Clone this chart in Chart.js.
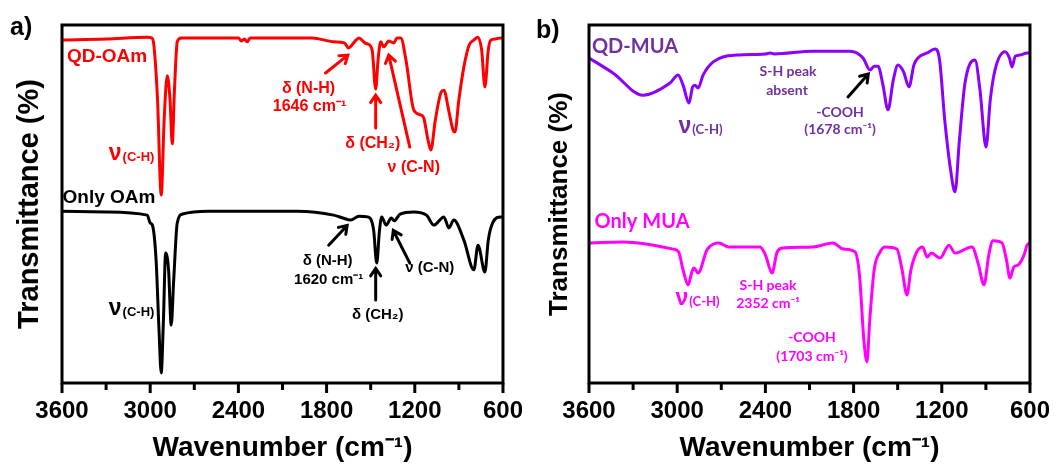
<!DOCTYPE html>
<html lang="en">
<head>
<meta charset="UTF-8">
<script src="https://cdn.jsdelivr.net/npm/chart.js@4.4.0/dist/chart.umd.min.js"></script>
<title>FTIR spectra</title>
<style>
  body { margin: 0; background: #fff; }
  .panel { position: absolute; top: 0; width: 527px; height: 466px; }
</style>
</head>
<body>
<div class="panel" style="left:0"><canvas id="chartA" width="527" height="466"></canvas></div>
<div class="panel" style="left:527px"><canvas id="chartB" width="527" height="466"></canvas></div>
<script>
// x: wavenumber (cm-1), y: transmittance (arbitrary, curves offset)
const qdOamWn = [3600,3300,3020,2990,2975,2950,2925,2905,2884,2865,2850,2835,2816,2790,2400,2380,2360,2340,2320,1900,1752,1680,1650,1610,1580,1540,1520,1490,1466,1450,1432,1411,1377,1343,1320,1295,1260,1207,1160,1139,1110,1091,1060,1020,1002,970,940,927,900,866,830,798,771,745,723,700,682,650,614,600];
const qdOamT = [95.8,96.1,96.6,96.4,94.4,79.1,52.5,73.5,85.8,79.1,66.8,81.8,95.3,96.4,96.4,95.5,96.1,95.3,96.4,96.4,95.3,95.0,93.6,95.3,96.4,95.0,94.7,93.0,82.1,90.2,95.3,93.9,95.5,95.0,96.4,96.4,90.2,76.3,74.9,74.0,67.9,65.1,73.5,81.3,81.8,76.3,70.7,70.1,79.1,88.3,94.4,95.8,96.6,93.0,82.7,93.0,95.8,96.1,96.4,96.4];

const oamWn = [3600,3300,3020,3000,2985,2960,2940,2925,2910,2895,2875,2857,2840,2816,2780,2600,2000,1752,1690,1636,1580,1520,1480,1459,1440,1425,1395,1360,1340,1300,1207,1120,1070,1002,968,935,866,798,770,723,700,670,614,600];
const oamT = [48.0,47.8,46.9,44.7,44.1,34.4,14.8,2.8,17.6,36.3,31.6,16.2,28.8,44.7,47.2,48.0,48.0,46.9,46.1,45.5,46.6,46.4,42.7,33.5,42.7,46.4,44.1,46.1,45.3,47.2,47.8,46.9,44.1,46.4,43.3,45.5,39.9,31.6,38.5,31.0,39.9,44.7,46.4,46.4];

const qdMuaWn = [3600,3437,3233,3049,2994,2960,2920,2895,2879,2858,2824,2755,2593,2400,2369,2340,2076,1825,1736,1688,1660,1634,1600,1566,1530,1498,1460,1423,1390,1362,1300,1246,1215,1180,1140,1110,1080,1042,974,940,899,870,838,770,740,722,700,670,620,600];
const qdMuaT = [90.8,86.6,80.4,83.8,86.0,83.2,78.2,82.7,83.2,82.4,86.0,89.7,91.6,91.9,92.2,91.9,92.7,92.7,90.8,87.4,88.5,88.5,83.2,76.3,84.6,88.8,86.9,82.7,88.8,90.8,92.2,93.3,90.2,73.5,59.5,53.4,67.9,83.8,90.2,81.8,65.9,79.1,87.4,92.5,90.8,88.3,91.3,91.6,92.2,92.2];

const muaWn = [3600,3369,3028,2990,2960,2926,2900,2886,2858,2797,2716,2650,2437,2400,2355,2320,2280,2076,1940,1870,1790,1760,1730,1709,1690,1660,1620,1586,1505,1470,1437,1410,1370,1330,1300,1270,1212,1151,1110,994,950,913,880,852,790,760,736,710,680,640,620,600];
const muaT = [39.1,39.4,37.4,36.6,31.6,27.4,31.0,32.1,30.7,37.2,39.1,38.0,38.0,35.8,30.7,36.6,37.7,38.0,39.1,37.4,36.6,30.2,12.0,5.9,17.6,31.6,36.6,38.0,37.4,31.6,24.6,31.6,36.6,38.0,35.2,36.3,34.9,38.5,36.3,38.0,33.0,27.4,35.8,39.7,39.1,34.4,29.3,32.4,33.0,35.8,38.5,39.1];

const xMin = 600, xMax = 3600, xStep = 300, labelStep = 600;

const AR = '"Liberation Sans", Arial, sans-serif';
const CAL = 'Lato, "Open Sans", sans-serif';

// annotations placed in data coordinates
const notesA = [
  { t: 'text', x: 3293, y: 91.1, s: 'QD-OAm', c: '#ff0000', f: 'bold 19px ' + AR },
  { t: 'nu', x: 3130, y: 63.7, s: '(C-H)', c: '#ff0000', f1: 'bold 23px ' + AR, f2: 'bold 13px ' + AR },
  { t: 'arrow', x1: 1807, y1: 86.6, x2: 1655, y2: 91.6, c: '#ff0000' },
  { t: 'text', x: 1923, y: 82.1, s: 'δ (N-H)', c: '#ff0000', f: 'bold 16px ' + AR },
  { t: 'text', x: 1916, y: 77.1, s: '1646 cm⁻¹', c: '#ff0000', f: 'bold 16px ' + AR },
  { t: 'arrow', x1: 1466, y1: 71.2, x2: 1466, y2: 80.4, c: '#ff0000' },
  { t: 'text', x: 1486, y: 66.8, s: 'δ (CH₂)', c: '#ff0000', f: 'bold 16px ' + AR },
  { t: 'arrow', x1: 1234, y1: 65.9, x2: 1377, y2: 91.6, c: '#ff0000' },
  { t: 'text', x: 1207, y: 60.3, s: 'ν (C-N)', c: '#ff0000', f: 'bold 16px ' + AR },
  { t: 'text', x: 3280, y: 51.7, s: 'Only OAm', c: '#000', f: 'bold 19px ' + AR },
  { t: 'nu', x: 3130, y: 20.4, s: '(C-H)', c: '#000', f1: 'bold 23px ' + AR, f2: 'bold 13px ' + AR },
  { t: 'arrow', x1: 1786, y1: 38.5, x2: 1660, y2: 44.0, c: '#000' },
  { t: 'text', x: 1793, y: 34.1, s: 'δ (N-H)', c: '#000', f: 'bold 15px ' + AR },
  { t: 'text', x: 1786, y: 28.8, s: '1620 cm⁻¹', c: '#000', f: 'bold 15px ' + AR },
  { t: 'arrow', x1: 1466, y1: 23.2, x2: 1466, y2: 32.0, c: '#000' },
  { t: 'text', x: 1452, y: 19.0, s: 'δ (CH₂)', c: '#000', f: 'bold 15px ' + AR },
  { t: 'arrow', x1: 1234, y1: 33.5, x2: 1346, y2: 42.6, c: '#000' },
  { t: 'text', x: 1098, y: 32.1, s: 'ν (C-N)', c: '#000', f: 'bold 15px ' + AR }
];

const notesB = [
  { t: 'text', x: 3287, y: 93.9, s: 'QD-MUA', c: '#7030a0', f: 'bold 20px ' + CAL },
  { t: 'nu', x: 2845, y: 71.2, s: '(C-H)', c: '#7030a0', f1: 'bold 23px ' + AR, f2: 'bold 13px ' + CAL },
  { t: 'text', x: 2246, y: 86.9, s: 'S-H peak', c: '#7030a0', f: 'bold 14px ' + CAL },
  { t: 'text', x: 2253, y: 81.8, s: 'absent', c: '#7030a0', f: 'bold 14px ' + CAL },
  { t: 'arrow', x1: 1838, y1: 79.9, x2: 1700, y2: 86.3, c: '#000' },
  { t: 'text', x: 1892, y: 75.7, s: '-COOH', c: '#7030a0', f: 'bold 14px ' + CAL },
  { t: 'text', x: 1892, y: 70.7, s: '(1678 cm⁻¹)', c: '#7030a0', f: 'bold 14px ' + CAL },
  { t: 'text', x: 3239, y: 45.0, s: 'Only MUA', c: '#ff00ff', f: 'bold 20px ' + CAL },
  { t: 'nu', x: 2865, y: 23.2, s: '(C-H)', c: '#ff00ff', f1: 'bold 23px ' + AR, f2: 'bold 13px ' + CAL },
  { t: 'text', x: 2382, y: 27.1, s: 'S-H peak', c: '#ff00ff', f: 'bold 14px ' + CAL },
  { t: 'text', x: 2382, y: 22.1, s: '2352 cm⁻¹', c: '#ff00ff', f: 'bold 14px ' + CAL },
  { t: 'text', x: 2083, y: 12.8, s: '-COOH', c: '#ff00ff', f: 'bold 14px ' + CAL },
  { t: 'text', x: 2083, y: 7.5, s: '(1703 cm⁻¹)', c: '#ff00ff', f: 'bold 14px ' + CAL }
];

function pts(wn, t) { return wn.map((w, i) => ({ x: w, y: t[i] })); }

const notesPlugin = {
  id: 'notes',
  afterDraw(chart, args, opts) {
    const { ctx, chartArea: a, scales: { x, y } } = chart;
    ctx.save();
    ctx.strokeStyle = '#000';
    ctx.lineWidth = 3;
    ctx.strokeRect(a.left, a.top, a.right - a.left, a.bottom - a.top);
    x.ticks.forEach(tk => {
      const px = x.getPixelForValue(tk.value);
      const len = tk.value % labelStep === 0 ? 10 : 7;
      ctx.beginPath();
      ctx.moveTo(px, a.bottom);
      ctx.lineTo(px, a.bottom + len);
      ctx.stroke();
    });
    ctx.fillStyle = '#000';
    ctx.font = 'bold 25px ' + AR;
    ctx.textAlign = 'left';
    ctx.textBaseline = 'top';
    ctx.fillText(opts.letter, opts.lx, opts.ly);

    ctx.textBaseline = 'middle';
    opts.items.forEach(it => {
      if (it.t === 'text') {
        ctx.fillStyle = it.c;
        ctx.font = it.f;
        ctx.textAlign = 'center';
        ctx.fillText(it.s, x.getPixelForValue(it.x), y.getPixelForValue(it.y));
      } else if (it.t === 'nu') {
        const cx = x.getPixelForValue(it.x), cy = y.getPixelForValue(it.y);
        ctx.font = it.f1;
        const w1 = ctx.measureText('ν').width;
        ctx.font = it.f2;
        const w2 = ctx.measureText(it.s).width;
        const left = cx - (w1 + w2) / 2;
        ctx.fillStyle = it.c;
        ctx.textAlign = 'left';
        ctx.font = it.f1;
        ctx.fillText('ν', left, cy - 1);
        ctx.font = it.f2;
        ctx.fillText(it.s, left + w1 + 1, cy + 2);
      } else if (it.t === 'arrow') {
        const x1 = x.getPixelForValue(it.x1), y1 = y.getPixelForValue(it.y1);
        const x2 = x.getPixelForValue(it.x2), y2 = y.getPixelForValue(it.y2);
        const ang = Math.atan2(y2 - y1, x2 - x1);
        const h = 9;
        ctx.strokeStyle = it.c;
        ctx.lineWidth = 3;
        ctx.lineCap = 'round';
        ctx.beginPath();
        ctx.moveTo(x1, y1);
        ctx.lineTo(x2, y2);
        ctx.moveTo(x2 - h * Math.cos(ang - 0.6), y2 - h * Math.sin(ang - 0.6));
        ctx.lineTo(x2, y2);
        ctx.lineTo(x2 - h * Math.cos(ang + 0.6), y2 - h * Math.sin(ang + 0.6));
        ctx.stroke();
      }
    });
    ctx.restore();
  }
};

function makeChart(id, sets, letter, lx, ly, items, ySize, yPad) {
  return new Chart(document.getElementById(id), {
    type: 'line',
    data: {
      datasets: sets.map(s => ({
        data: pts(s.wn, s.t),
        borderColor: s.color,
        borderWidth: 3,
        pointRadius: 0,
        cubicInterpolationMode: 'monotone',
        fill: false
      }))
    },
    options: {
      responsive: false,
      animation: false,
      layout: { padding: { top: 25, right: 24, left: 0, bottom: 0 } },
      plugins: {
        legend: { display: false },
        tooltip: { enabled: false },
        notes: { letter: letter, lx: lx, ly: ly, items: items }
      },
      scales: {
        x: {
          type: 'linear',
          reverse: true,
          min: xMin,
          max: xMax,
          border: { display: false },
          grid: { display: false, tickLength: 10 },
          ticks: {
            stepSize: xStep,
            autoSkip: false,
            maxRotation: 0,
            padding: 4,
            color: '#000',
            font: { family: AR, size: 24, weight: 'bold' },
            callback: v => (v % labelStep === 0 ? String(v) : '')
          },
          title: {
            display: true,
            text: 'Wavenumber (cm⁻¹)',
            color: '#000',
            font: { family: AR, size: 28, weight: 'bold' },
            padding: { top: 0, bottom: 1 }
          },
          afterFit: s => { s.height = 83; }
        },
        y: {
          min: 0,
          max: 100,
          border: { display: false },
          grid: { display: false },
          ticks: { display: false },
          title: {
            display: true,
            text: 'Transmittance (%)',
            color: '#000',
            font: { family: AR, size: ySize, weight: 'bold' },
            padding: { top: yPad, bottom: 0 }
          },
          afterFit: s => { s.width = 62; }
        }
      }
    },
    plugins: [notesPlugin]
  });
}

makeChart('chartA', [
  { wn: qdOamWn, t: qdOamT, color: '#ff0000' },
  { wn: oamWn, t: oamT, color: '#000000' }
], 'a)', 10, 16, notesA, 29, 13);

makeChart('chartB', [
  { wn: qdMuaWn, t: qdMuaT, color: '#8b00ff' },
  { wn: muaWn, t: muaT, color: '#ff00ff' }
], 'b)', 9, 19, notesB, 26, 17);
</script>
</body>
</html>
